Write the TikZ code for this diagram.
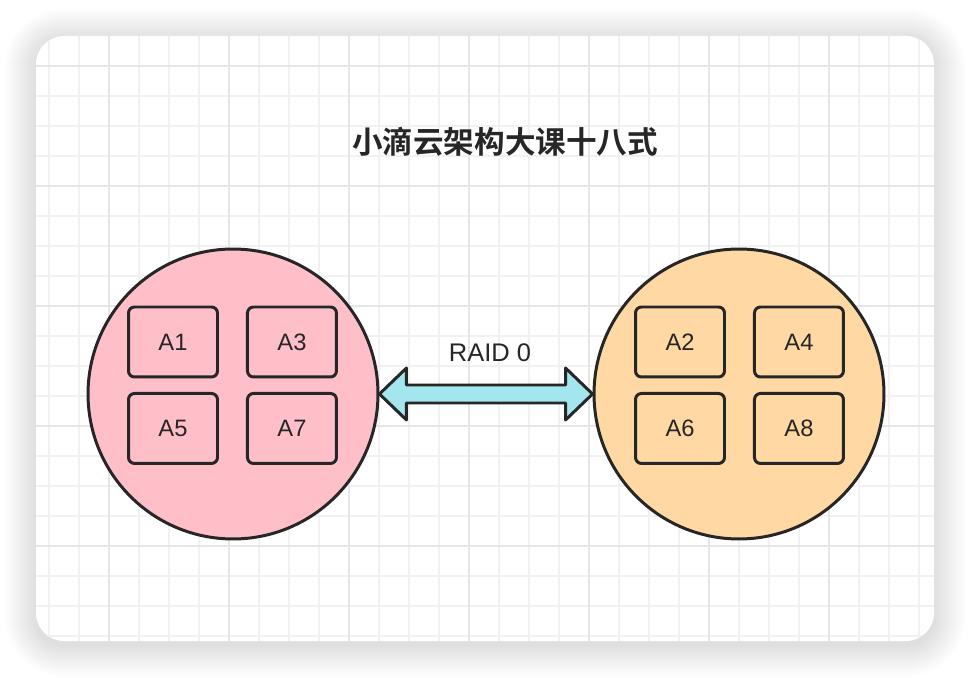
\documentclass[tikz,border=0pt]{standalone}
\usepackage{fontspec}
\setmainfont{Liberation Sans}
\newfontfamily\cjktitle{Noto Sans CJK SC Bold}
\usetikzlibrary{calc, positioning}
\definecolor{inkgray}{HTML}{262626}
\definecolor{gridminor}{HTML}{F1F1F1}
\definecolor{gridmajor}{HTML}{E6E6E6}
\definecolor{diskpink}{HTML}{FFBFC9}
\definecolor{diskorange}{HTML}{FFD8A4}
\definecolor{raidcyan}{HTML}{A3E6EE}
\tikzset{
    disk/.style={circle, draw=inkgray, line width=1.7pt, minimum size=5.8cm, inner sep=0pt},
    slot/.style={draw=inkgray, line width=1.7pt, rounded corners=0.12cm,
        minimum width=1.78cm, minimum height=1.4cm, inner sep=0pt,
        font=\fontsize{13.5}{15}\selectfont, text=inkgray},
    raid/.style={draw=inkgray, fill=raidcyan, line width=1.7pt, line join=round}
}

\begin{document}
\begin{tikzpicture}[x=0.02cm, y=-0.02cm]
        % Page and card, pixel coordinates of the 970x678 reference
        \useasboundingbox[fill=white] (0,0) rectangle (970,678);
        \foreach \s in {1,...,32} {
            \fill[black, opacity=0.0045, rounded corners=0.56cm+\s*0.02cm]
                (36-\s,36-\s+4) rectangle (934+\s,641+\s+4);
        }
        \fill[white, rounded corners=0.56cm] (36,36) rectangle (934,641);
        \begin{scope}
            \clip[rounded corners=0.56cm] (36,36) rectangle (934,641);
            \foreach \gx in {49,79,...,919} \draw[gridminor, line width=1.1pt] (\gx,36) -- (\gx,641);
            \foreach \gy in {66,96,...,636} \draw[gridminor, line width=1.1pt] (36,\gy) -- (934,\gy);
            \foreach \gx in {109,229,...,829} \draw[gridmajor, line width=1.1pt] (\gx,36) -- (\gx,641);
            \foreach \gy in {66,186,...,546} \draw[gridmajor, line width=1.1pt] (36,\gy) -- (934,\gy);
        \end{scope}

        \node[font=\cjktitle\fontsize{17.4}{19}\selectfont, text=inkgray] (title) at (505,142) {小滴云架构大课十八式};

        % Two disks of the stripe set
        \node[disk, fill=diskpink] (diskL) at (233,394) {};
        \node[disk, fill=diskorange] (diskR) at (739,394) {};

        \node[slot] (A1) at ($(diskL.center)+(-60,-52)$) {A1};
        \node[slot, right=0.54cm of A1] (A3) {A3};
        \node[slot, below=0.27cm of A1] (A5) {A5};
        \node[slot, right=0.54cm of A5] (A7) {A7};

        \node[slot] (A2) at ($(diskR.center)+(-59,-52)$) {A2};
        \node[slot, right=0.54cm of A2] (A4) {A4};
        \node[slot, below=0.27cm of A2] (A6) {A6};
        \node[slot, right=0.54cm of A6] (A8) {A8};

        % Double arrow between the disks
        \draw[raid] (diskL.east) -- ++(27,-26) -- ++(0,17)
            -- ($(diskR.west)+(-27,-9)$) -- ++(0,-17) -- (diskR.west)
            -- ++(-27,26) -- ++(0,-17) -- ($(diskL.east)+(27,9)$) -- ++(0,17) -- cycle;
        \node[font=\fontsize{14.5}{16}\selectfont, text=inkgray] (raidlabel) at (490,353) {RAID 0};
    \end{tikzpicture}
\end{document}
